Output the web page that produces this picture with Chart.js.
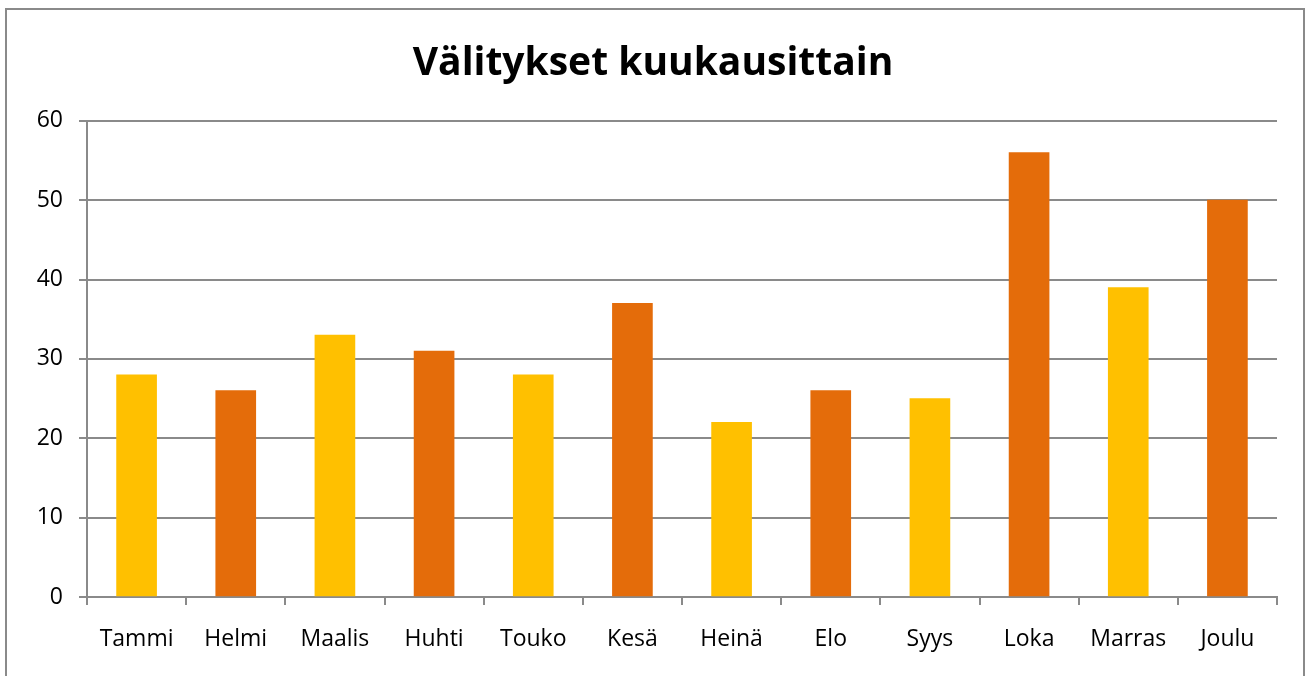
<!DOCTYPE html>
<html>
<head>
<meta charset="utf-8">
<script src="https://cdn.jsdelivr.net/npm/chart.js@4/dist/chart.umd.min.js"></script>
<style>
html,body{margin:0;padding:0;background:#fff;}
#wrap{position:relative;width:1306px;height:676px;}
</style>
</head>
<body>
<div id="wrap"><canvas id="c" width="1306" height="676"></canvas></div>
<script>
const categories = ["Tammi","Helmi","Maalis","Huhti","Touko","Kesä","Heinä","Elo","Syys","Loka","Marras","Joulu"];
const values = [28, 26, 33, 31, 28, 37, 22, 26, 25, 56, 39, 50];
const barColors = ["#FFC000","#E46C0A","#FFC000","#E46C0A","#FFC000","#E46C0A","#FFC000","#E46C0A","#FFC000","#E46C0A","#FFC000","#E46C0A"];
const titleText = "Välitykset kuukausittain";
const yMin = 0, yMax = 60, yStep = 10;

const borderPlugin = {
  id: 'outerBorder',
  beforeDraw(chart) {
    const ctx = chart.ctx;
    ctx.save();
    ctx.fillStyle = '#fff';
    ctx.fillRect(0, 0, chart.width, chart.height);
    ctx.strokeStyle = '#8a8a8a';
    ctx.lineWidth = 2;
    ctx.strokeRect(6, 9, 1298, 700);
    ctx.restore();
  }
};

new Chart(document.getElementById('c'), {
  type: 'bar',
  data: {
    labels: categories,
    datasets: [{
      data: values,
      backgroundColor: barColors,
      borderWidth: 0,
      barThickness: 40
    }]
  },
  plugins: [borderPlugin],
  options: {
    responsive: false,
    animation: false,
    layout: { padding: { top: 0, right: 29, left: 29, bottom: 0 } },
    plugins: {
      legend: { display: false },
      tooltip: { enabled: false },
      title: {
        display: true,
        text: titleText,
        color: '#000',
        font: { family: 'Open Sans', size: 39, weight: 'bold', lineHeight: 1.2 },
        padding: { top: 40, bottom: 34 }
      }
    },
    scales: {
      x: {
        afterFit(scale) { scale.height = 79; },
        grid: { drawOnChartArea: false, drawTicks: true, tickLength: 8, color: '#8a8a8a', lineWidth: 2 },
        border: { display: true, color: '#8a8a8a', width: 2 },
        ticks: { color: '#000', font: { family: 'Open Sans', size: 23 }, padding: 21, maxRotation: 0 }
      },
      y: {
        min: yMin, max: yMax,
        afterFit(scale) { scale.width = 58; },
        grid: { drawOnChartArea: true, drawTicks: true, tickLength: 8, color: '#8a8a8a', lineWidth: 2 },
        border: { display: true, color: '#8a8a8a', width: 2 },
        ticks: { stepSize: yStep, color: '#000', font: { family: 'Open Sans', size: 23 }, padding: 16 }
      }
    }
  }
});
</script>
</body>
</html>
